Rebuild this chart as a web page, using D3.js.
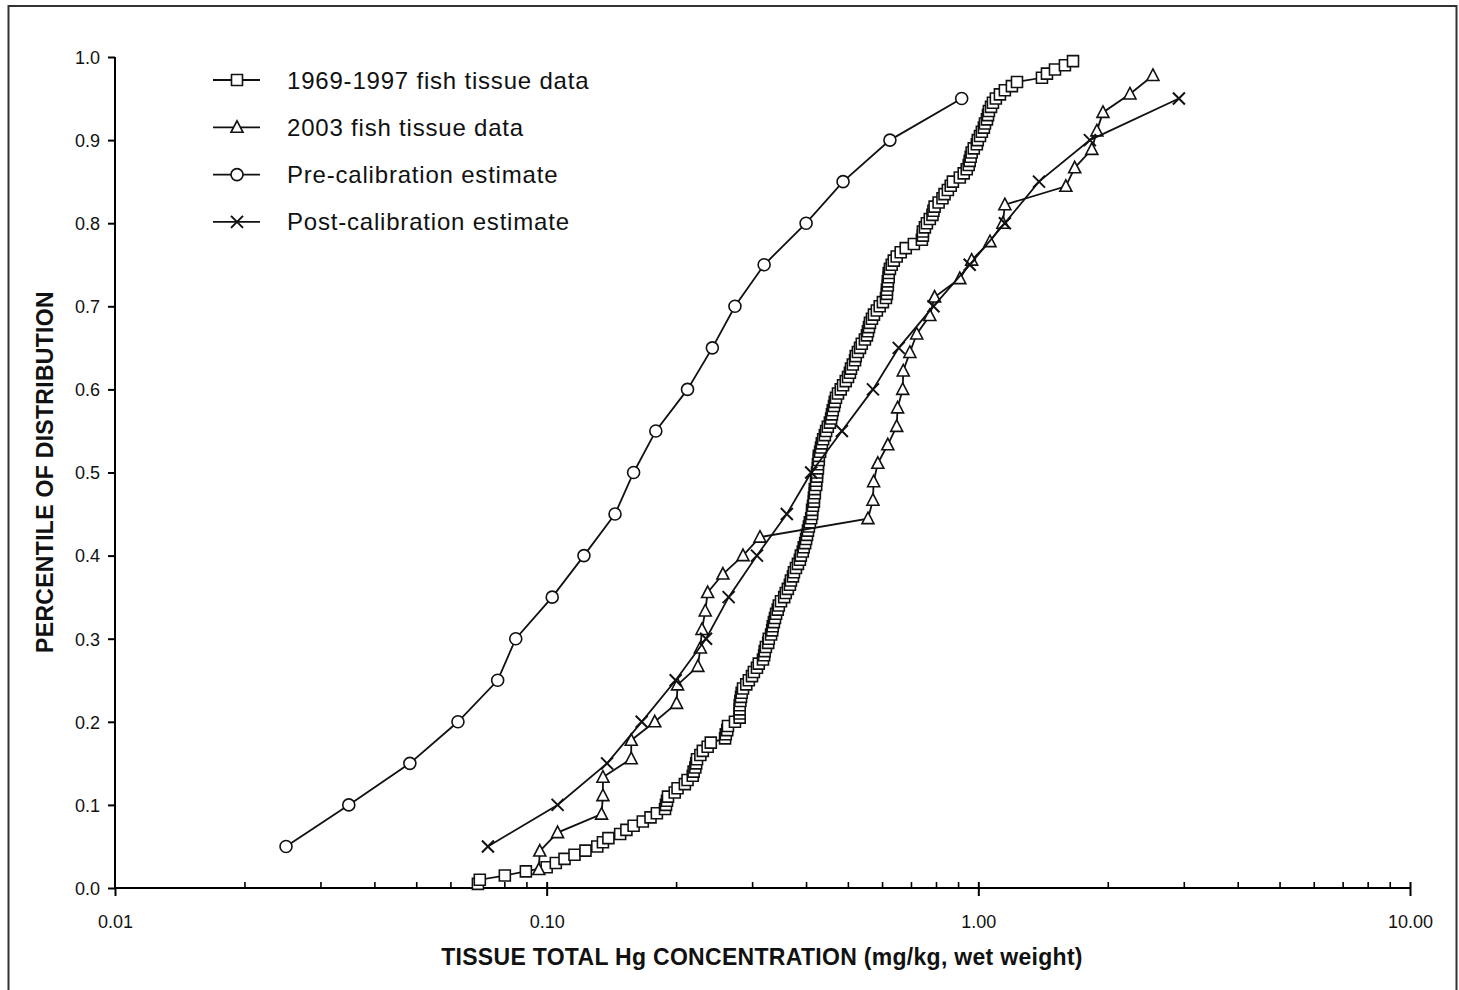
<!DOCTYPE html>
<html>
<head>
<meta charset="utf-8">
<script src="https://cdn.jsdelivr.net/npm/d3@7"></script>
<style>
  body { margin: 0; background: #fff; }
  text { font-family: "Liberation Sans", Arial, Helvetica, sans-serif; fill: #111; }
</style>
</head>
<body>
<svg id="chart" width="1459" height="990"></svg>
<script>
// --- data ---
const legendLabels = [
  '1969-1997 fish tissue data',
  '2003 fish tissue data',
  'Pre-calibration estimate',
  'Post-calibration estimate'
];

// model estimates, given at fixed percentiles
const estimatePct = [0.05, 0.10, 0.15, 0.20, 0.25, 0.30, 0.35, 0.40, 0.45, 0.50,
  0.55, 0.60, 0.65, 0.70, 0.75, 0.80, 0.85, 0.90, 0.95];
const preCalConc = [0.0249, 0.0348, 0.0482, 0.0623, 0.0770, 0.0848, 0.103, 0.122, 0.144, 0.159,
  0.179, 0.212, 0.242, 0.273, 0.319, 0.399, 0.486, 0.624, 0.915];
const postCalConc = [0.0731, 0.106, 0.138, 0.166, 0.199, 0.234, 0.264, 0.307, 0.360, 0.410,
  0.483, 0.570, 0.654, 0.787, 0.955, 1.152, 1.382, 1.813, 2.915];

// observed samples, sorted (plotted at rank / (n + 1))
const fish2003Conc = [0.0959, 0.0964, 0.106, 0.134, 0.135, 0.135, 0.157, 0.157, 0.178, 0.200,
  0.201, 0.224, 0.227, 0.229, 0.233, 0.236, 0.256, 0.285, 0.312, 0.555,
  0.570, 0.572, 0.585, 0.617, 0.647, 0.650, 0.668, 0.670, 0.694, 0.720,
  0.772, 0.792, 0.906, 0.965, 1.064, 1.140, 1.152, 1.595, 1.672, 1.832,
  1.882, 1.944, 2.245, 2.538];
const fish1969Conc = [
  0.0693, 0.0700, 0.0800, 0.0895, 0.100, 0.105, 0.110, 0.116, 0.123, 0.131,
  0.135, 0.139, 0.148, 0.153, 0.159, 0.167, 0.174, 0.180, 0.188, 0.189,
  0.190, 0.191, 0.198, 0.201, 0.209, 0.212, 0.218, 0.219, 0.221, 0.222,
  0.223, 0.227, 0.230, 0.236, 0.240, 0.259, 0.260, 0.262, 0.263, 0.273,
  0.280, 0.280, 0.280, 0.280, 0.281, 0.282, 0.283, 0.285, 0.290, 0.294,
  0.299, 0.302, 0.307, 0.310, 0.317, 0.319, 0.320, 0.322, 0.326, 0.327,
  0.331, 0.333, 0.334, 0.336, 0.338, 0.340, 0.343, 0.345, 0.349, 0.355,
  0.358, 0.362, 0.366, 0.368, 0.372, 0.374, 0.378, 0.382, 0.386, 0.388,
  0.392, 0.394, 0.397, 0.399, 0.401, 0.403, 0.405, 0.407, 0.410, 0.412,
  0.412, 0.414, 0.416, 0.416, 0.418, 0.418, 0.421, 0.421, 0.423, 0.423,
  0.425, 0.425, 0.427, 0.427, 0.430, 0.432, 0.434, 0.437, 0.441, 0.444,
  0.448, 0.453, 0.456, 0.458, 0.460, 0.463, 0.465, 0.468, 0.473, 0.480,
  0.486, 0.493, 0.499, 0.504, 0.507, 0.512, 0.518, 0.520, 0.526, 0.532,
  0.537, 0.546, 0.552, 0.555, 0.558, 0.561, 0.567, 0.573, 0.582, 0.591,
  0.601, 0.611, 0.614, 0.614, 0.617, 0.617, 0.620, 0.620, 0.624, 0.630,
  0.637, 0.647, 0.661, 0.679, 0.709, 0.740, 0.744, 0.744, 0.752, 0.760,
  0.772, 0.783, 0.787, 0.792, 0.809, 0.826, 0.835, 0.850, 0.863, 0.873,
  0.906, 0.925, 0.940, 0.950, 0.955, 0.960, 0.965, 0.976, 0.992, 0.997,
  1.009, 1.019, 1.030, 1.036, 1.047, 1.053, 1.058, 1.070, 1.081, 1.098,
  1.122, 1.152, 1.196, 1.229, 1.404, 1.442, 1.505, 1.587, 1.657];

const xTickValues = [0.01, 0.1, 1, 10];
const xTickLabels = ['0.01', '0.10', '1.00', '10.00'];
const yTickValues = [0, 0.1, 0.2, 0.3, 0.4, 0.5, 0.6, 0.7, 0.8, 0.9, 1.0];

// --- setup ---
const svg = d3.select('#chart');
const x = d3.scaleLog().domain([0.01, 10]).range([115, 1410]);
const y = d3.scaleLinear().domain([0, 1]).range([888, 57]);

// page frame
svg.append('rect')
  .attr('x', 8.5).attr('y', 6).attr('width', 1448).attr('height', 1000)
  .attr('fill', 'none').attr('stroke', '#333').attr('stroke-width', 2);

function rankPct(arr) {
  return arr.map((c, i) => ({ c, p: (i + 1) / (arr.length + 1) }));
}

const series = [
  { shape: 'square', pts: rankPct(fish1969Conc) },
  { shape: 'triangle', pts: rankPct(fish2003Conc) },
  { shape: 'circle', pts: preCalConc.map((c, i) => ({ c, p: estimatePct[i] })) },
  { shape: 'cross', pts: postCalConc.map((c, i) => ({ c, p: estimatePct[i] })) }
];

function markerPath(shape, cx, cy) {
  if (shape === 'square') return `M${cx - 5.5},${cy - 5.5}h11v11h-11Z`;
  if (shape === 'triangle') return `M${cx},${cy - 6.5}L${cx + 6},${cy + 5}L${cx - 6},${cy + 5}Z`;
  if (shape === 'circle') return `M${cx - 6},${cy}a6,6 0 1,0 12,0a6,6 0 1,0 -12,0Z`;
  return `M${cx - 6},${cy - 6}L${cx + 6},${cy + 6}M${cx - 6},${cy + 6}L${cx + 6},${cy - 6}`;
}

// --- axes ---
const xAxisG = svg.append('g').attr('transform', 'translate(0,888)');
xAxisG.call(d3.axisBottom(x).tickValues(xTickValues).tickSize(8)
  .tickFormat((d, i) => xTickLabels[i]));
xAxisG.select('.domain').attr('stroke', '#000').attr('stroke-width', 2)
  .attr('d', 'M115,0H1410');
xAxisG.selectAll('.tick line').attr('stroke', '#000').attr('stroke-width', 2)
  .attr('y1', d => d === 0.01 ? 0 : -6);
xAxisG.selectAll('.tick text').attr('y', 40).attr('dy', 0)
  .style('font-size', '18px').attr('fill', '#111');

// minor ticks 2..9 per decade
const minor = x.ticks(30).filter(v => !xTickValues.some(t => Math.abs(t - v) < 1e-9));
xAxisG.selectAll('.minor').data(minor).join('line')
  .attr('class', 'minor')
  .attr('x1', d => x(d)).attr('x2', d => x(d))
  .attr('y1', -6).attr('y2', 0)
  .attr('stroke', '#000').attr('stroke-width', 1.6);

const yAxisG = svg.append('g').attr('transform', 'translate(115,0)');
yAxisG.call(d3.axisLeft(y).tickValues(yTickValues).tickSize(7).tickFormat(d3.format('.1f')));
yAxisG.select('.domain').attr('stroke', '#000').attr('stroke-width', 2)
  .attr('d', 'M0,57V888');
yAxisG.selectAll('.tick line').attr('stroke', '#000').attr('stroke-width', 2);
yAxisG.selectAll('.tick text').attr('x', -15).attr('dy', '0.35em')
  .style('font-size', '18px').attr('fill', '#111');
svg.selectAll('.tick text').style('font-family', '"Liberation Sans", Arial, sans-serif');

// axis titles
svg.append('text')
  .attr('x', 762).attr('y', 965)
  .attr('text-anchor', 'middle')
  .style('font-size', '23px').style('font-weight', 'bold')
  .style('letter-spacing', '0.3px')
  .text('TISSUE TOTAL Hg CONCENTRATION (mg/kg, wet weight)');

svg.append('text')
  .attr('transform', 'translate(53,472) rotate(-90)')
  .attr('text-anchor', 'middle')
  .style('font-size', '23px').style('font-weight', 'bold')
  .style('letter-spacing', '0.3px')
  .text('PERCENTILE OF DISTRIBUTION');

// --- series ---
const line = d3.line().x(d => x(d.c)).y(d => y(d.p));
series.forEach(s => {
  const g = svg.append('g');
  g.append('path').datum(s.pts)
    .attr('d', line)
    .attr('fill', 'none').attr('stroke', '#111').attr('stroke-width', 1.8);
  g.selectAll('.mk').data(s.pts).join('path')
    .attr('class', 'mk')
    .attr('d', d => markerPath(s.shape, x(d.c), y(d.p)))
    .attr('fill', s.shape === 'cross' ? 'none' : '#fff')
    .attr('stroke', '#111')
    .attr('stroke-width', s.shape === 'cross' ? 2 : 1.6);
});

// --- legend ---
const legend = svg.append('g');
series.forEach((s, i) => {
  const ly = 80 + i * 47.3;
  legend.append('line')
    .attr('x1', 213).attr('x2', 260).attr('y1', ly).attr('y2', ly)
    .attr('stroke', '#111').attr('stroke-width', 1.8);
  legend.append('path')
    .attr('d', markerPath(s.shape, 237, ly))
    .attr('fill', s.shape === 'cross' ? 'none' : '#fff')
    .attr('stroke', '#111').attr('stroke-width', s.shape === 'cross' ? 2 : 1.6);
  legend.append('text')
    .attr('x', 287).attr('y', ly + 8.5)
    .style('font-size', '24px')
    .style('letter-spacing', '0.8px')
    .text(legendLabels[i]);
});
</script>
</body>
</html>
